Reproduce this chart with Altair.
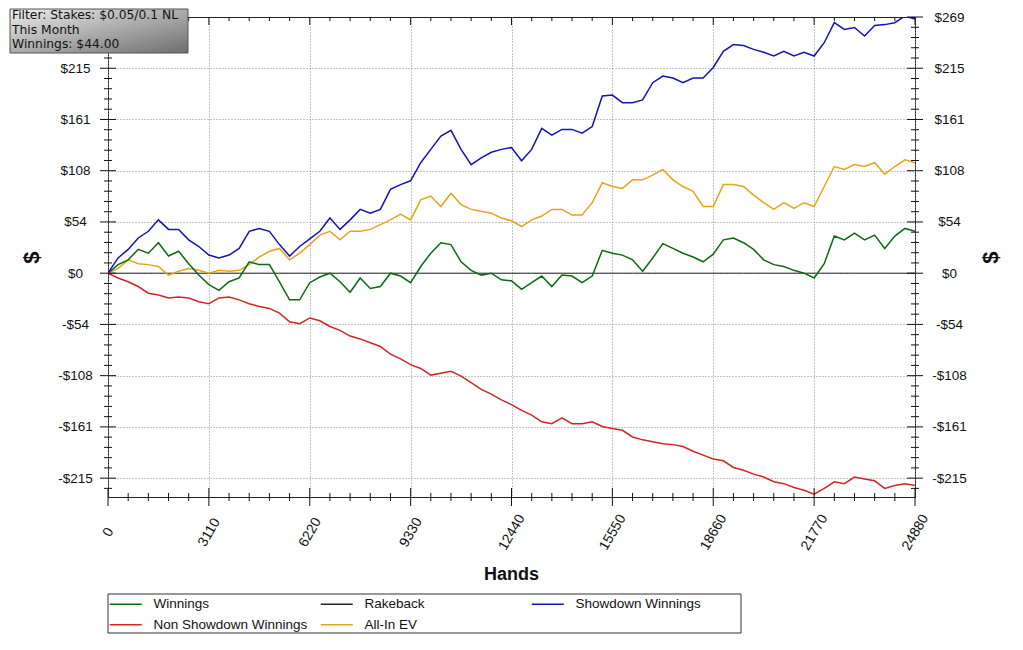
import altair as alt
import pandas as pd

# ---------------- data ----------------
HANDS = list(range(0, 24881, 311))  # sample grid, every 311 hands

SHOWDOWN = [0, 16, 25, 37, 44, 56, 46, 46, 35, 28, 19, 16, 19, 26, 44, 47, 44, 30, 18, 28, 36,
            44, 58, 46, 56, 67, 63, 67, 88, 93, 97, 116, 130, 144, 150, 130, 114, 121, 127, 130, 132,
            118, 130, 152, 145, 151, 151, 147, 154, 186, 187, 179, 179, 182, 200, 207, 205, 200, 205, 205, 216,
            233, 240, 239, 235, 232, 228, 233, 228, 232, 228, 242, 263, 256, 258, 249, 260, 261, 263, 270, 267]

WINNINGS = [0, 9, 14, 25, 21, 32, 18, 23, 10, -2, -12, -18, -9, -5, 12, 9, 9, -9, -28, -28, -10,
            -4, 0, -9, -20, -5, -16, -14, 0, -3, -10, 7, 21, 32, 30, 12, 3, -2, 0, -7, -8,
            -17, -10, -3, -14, -2, -3, -10, -3, 24, 21, 19, 14, 2, 16, 31, 26, 21, 17, 12, 20,
            35, 37, 32, 25, 14, 9, 7, 3, 0, -5, 10, 39, 35, 42, 35, 40, 26, 39, 47, 44]

ALLIN_EV = [0, 5, 14, 10, 9, 7, -2, 2, 5, 3, 0, 3, 2, 3, 9, 17, 23, 26, 14, 21, 30,
            40, 44, 35, 44, 44, 46, 51, 56, 62, 56, 77, 81, 70, 84, 72, 67, 65, 63, 58, 55,
            49, 56, 60, 67, 67, 61, 61, 74, 95, 91, 89, 98, 98, 103, 109, 98, 91, 86, 70, 70,
            93, 93, 91, 82, 74, 67, 74, 68, 74, 70, 91, 112, 109, 114, 112, 116, 104, 112, 119, 116]

NON_SHOWDOWN = [0, -5, -9, -14, -21, -23, -26, -25, -26, -30, -32, -26, -25, -28, -32, -35, -37, -42, -51, -53, -47,
                -50, -56, -60, -66, -69, -73, -77, -85, -90, -96, -100, -107, -105, -103, -108, -115, -122, -127, -133, -138,
                -144, -149, -156, -158, -152, -158, -158, -156, -161, -163, -165, -172, -175, -177, -179, -180, -182, -187, -191, -195,
                -197, -204, -207, -211, -214, -219, -221, -225, -228, -232, -226, -219, -221, -214, -216, -218, -226, -223, -221, -223]

RAKEBACK = [0] * len(HANDS)

SERIES_ORDER = ["Winnings", "Rakeback", "Showdown Winnings", "Non Showdown Winnings", "All-In EV"]
SERIES_COLORS = ["#0b6a12", "#222222", "#1414b4", "#d42424", "#e8a419"]

X_MAJOR = [0, 3110, 6220, 9330, 12440, 15550, 18660, 21770, 24880]
Y_MAJOR = [-215.2, -161.4, -107.6, -53.8, 0, 53.8, 107.6, 161.4, 215.2, 269]
Y_LEFT_LABELS = [-215.2, -161.4, -107.6, -53.8, 0, 53.8, 107.6, 161.4, 215.2]  # top one hidden by filter box
X_DOMAIN = [0, 24880]
Y_DOMAIN = [-235, 269]

FILTER_LINES = ["Filter: Stakes: $0.05/0.1 NL", "This Month", "Winnings: $44.00"]

X_MINOR = [v for v in range(0, 24881, 622) if v % 3110 != 0]
Y_STEP = 269 / 25
Y_MINOR = [round(k * Y_STEP, 2) for k in range(-21, 26) if k % 5 != 0]

# ---------------- build ----------------
rows = []
for name, vals in [("Rakeback", RAKEBACK), ("Non Showdown Winnings", NON_SHOWDOWN),
                   ("All-In EV", ALLIN_EV), ("Winnings", WINNINGS),
                   ("Showdown Winnings", SHOWDOWN)]:
    for h, v in zip(HANDS, vals):
        rows.append({"hands": h, "value": v, "series": name})
df = pd.DataFrame(rows)

FONT = "Liberation Sans"
BOXFONT = "DejaVu Sans"
xscale = alt.Scale(domain=X_DOMAIN, nice=False, zero=False)
yscale = alt.Scale(domain=Y_DOMAIN, nice=False, zero=False)
ylabel = "(datum.value < 0 ? '-$' : '$') + format(abs(datum.value), '.0f')"

one = pd.DataFrame({"a": [0]})

# legend frame (drawn under the library legend)
legend_frame = alt.Chart(one).mark_rect(fill="white", stroke="#333", strokeWidth=1).encode(
    x=alt.value(0), x2=alt.value(633), y=alt.value(577), y2=alt.value(616))

lines = alt.Chart(df).mark_line(clip=True).encode(
    x=alt.X("hands:Q", scale=xscale, axis=alt.Axis(
        values=X_MAJOR, format="d", title="Hands", grid=True, gridDash=[1, 2], gridColor="#8a8a8a",
        ticks=False, tickSize=0, domain=False, labelAngle=-60, labelAlign="center",
        labelBaseline="middle", labelPadding=35, labelFontSize=14, labelFont=FONT,
        labelColor="#111", titleFont=FONT, titleFontSize=18, titleFontWeight="bold",
        titleColor="#111", titleX=403, titleY=77, titleBaseline="middle")),
    y=alt.Y("value:Q", scale=yscale, axis=alt.Axis(
        values=Y_LEFT_LABELS, labelExpr=ylabel, grid=True, gridDash=[1, 2], gridColor="#8a8a8a",
        ticks=False, tickSize=0, domain=False, labelAlign="center", labelBaseline="middle",
        labelPadding=33, labelFontSize=13.5, labelFont=FONT, labelColor="#111",
        title="$", titleAngle=-90, titleX=-77, titleY=240, titleFontSize=22,
        titleFontWeight="bold", titleFont=FONT, titleColor="#111",
        titleAlign="center", titleBaseline="middle")),
    color=alt.Color("series:N", scale=alt.Scale(domain=SERIES_ORDER, range=SERIES_COLORS),
                    legend=alt.Legend(
                        title=None, orient="none", legendX=8, legendY=577, columns=3,
                        gridAlign="all", symbolType="M-3.2,0H3.2", symbolSize=100,
                        symbolStrokeWidth=1.5, labelOffset=21, columnPadding=9,
                        rowPadding=6, padding=3, labelFont=FONT, labelFontSize=13.5,
                        labelColor="#111", direction="horizontal")),
    strokeWidth=alt.condition(alt.datum.series == "Rakeback", alt.value(1), alt.value(1.5)),
)

ymaj_df = pd.DataFrame({"v": Y_MAJOR})
ymin_df = pd.DataFrame({"v": Y_MINOR})
xmaj_df = pd.DataFrame({"h": X_MAJOR})
xmin_df = pd.DataFrame({"h": X_MINOR})

def yrule(data, a, b, axis=None):
    return alt.Chart(data).mark_rule(color="#111", strokeWidth=1).encode(
        y=alt.Y("v:Q", scale=yscale, axis=axis), x=alt.value(a), x2=alt.value(b))

def xrule(data, a, b):
    return alt.Chart(data).mark_rule(color="#111", strokeWidth=1).encode(
        x=alt.X("h:Q", scale=xscale, axis=None), y=alt.value(a), y2=alt.value(b))

right_axis = alt.Axis(
    orient="right", values=Y_MAJOR, labelExpr=ylabel, grid=False, ticks=False, tickSize=0,
    domain=False, labelAlign="center", labelBaseline="middle", labelPadding=34,
    labelFontSize=13.5, labelFont=FONT, labelColor="#111", title="$", titleAngle=-90,
    titleX=75, titleY=240, titleFontSize=22, titleFontWeight="bold", titleFont=FONT,
    titleColor="#111", titleAlign="center", titleBaseline="middle")

ticks = [
    yrule(ymaj_df, -8, 8), yrule(ymin_df, -4, 4),
    yrule(ymaj_df, 799, 815, right_axis), yrule(ymin_df, 803, 811),
    xrule(xmaj_df, 471, 489), xrule(xmin_df, 476, 484),
    xrule(xmaj_df, 0, 8), xrule(xmin_df, 0, 4),
]

box = alt.Chart(one).mark_rect(
    fill=alt.Gradient(gradient="linear",
                      stops=[alt.GradientStop(color="#ececec", offset=0),
                             alt.GradientStop(color="#6e6e6e", offset=1)],
                      x1=0, y1=0, x2=1, y2=1),
    stroke="#555", strokeWidth=1).encode(
    x=alt.value(-98), x2=alt.value(80), y=alt.value(-8), y2=alt.value(36))

box_texts = [
    alt.Chart(one).mark_text(
        align="left", baseline="middle", font=BOXFONT, fontSize=12.3, color="#111").encode(
        x=alt.value(-96), y=alt.value(-2 + 14.5 * i), text=alt.value(line))
    for i, line in enumerate(FILTER_LINES)
]

chart = alt.layer(legend_frame, lines, *ticks, box, *box_texts).resolve_axis(
    x="independent", y="independent").properties(
    width=807, height=480,
    padding={"left": 100, "top": 9, "right": 95, "bottom": 140},
    autosize=alt.AutoSizeParams(type="none"),
    background="white",
).configure_view(stroke="#222", strokeWidth=1)

chart.save("out.html", embed_options={"renderer": "svg", "actions": False})
